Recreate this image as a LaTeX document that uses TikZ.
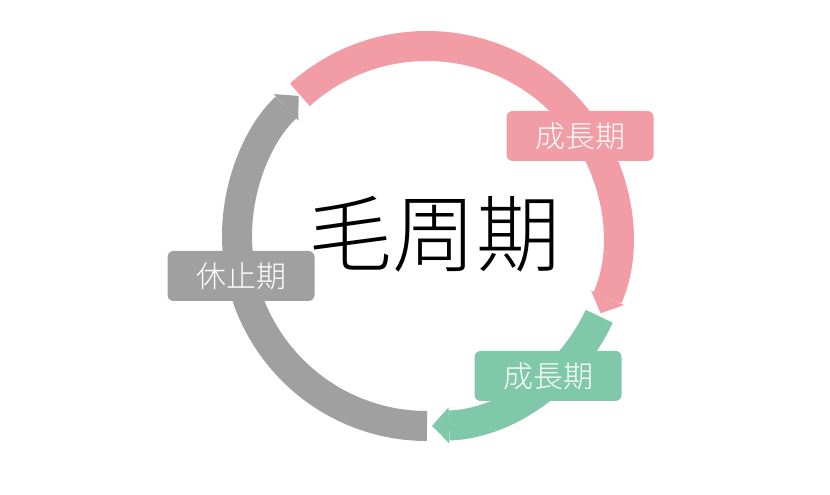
\documentclass[tikz,border=0pt]{standalone}
\usepackage{fontspec}
\newfontfamily\cjk{Noto Sans CJK JP Light}
\usetikzlibrary{arrows.meta}
\definecolor{pinkc}{HTML}{F29CA5}
\definecolor{greenc}{HTML}{80C8AA}
\definecolor{grayc}{HTML}{A0A0A0}
\begin{document}
\begin{tikzpicture}[x = 1pt, y = 1pt,
  phase/.style = {line width = 30pt, -{Triangle[width = 36pt, length = 17pt, line width = 0pt]}},
  tag/.style = {rounded corners = 6pt, minimum width = 147pt, minimum height = 50pt, inner sep = 0, text = white, font = \cjk\fontsize{30}{30}\selectfont}]
\useasboundingbox (0,0) rectangle (830,495);
\coordinate (c) at (427,259);
\draw [phase, pinkc] (c) ++(132:190) arc[start angle = 132, end angle = -24, radius = 190];
\draw [phase, greenc] (c) ++(-25:190) arc[start angle = -25, end angle = -88.5, radius = 190];
\draw [phase, grayc] (c) ++(270:190) arc[start angle = 270, end angle = 132.5, radius = 190];
\node[tag, fill = pinkc](grow1) at (580,359){成長期};
\node[tag, fill = greenc](grow2) at (548,119){成長期};
\node[tag, fill = grayc](rest) at (241,219){休止期};
\node[font = \cjk\fontsize{84}{84}\selectfont](cycle) at (434,261){毛周期};
\end{tikzpicture}
\end{document}
